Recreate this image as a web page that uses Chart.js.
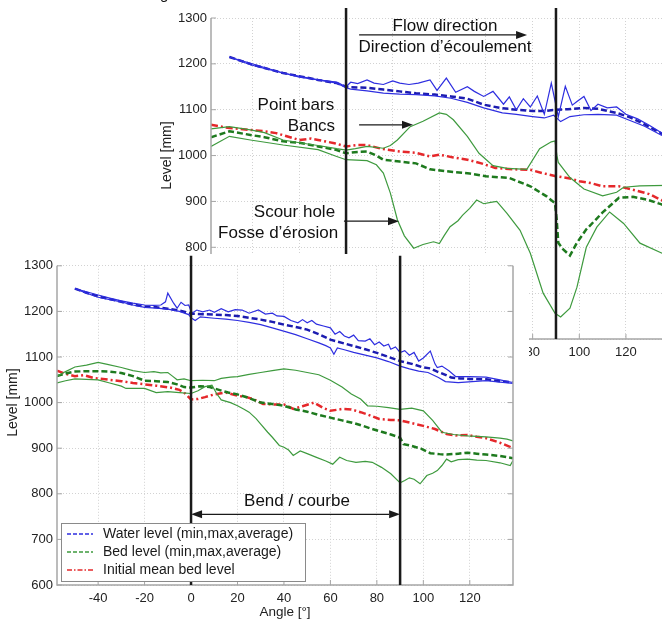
<!DOCTYPE html>
<html>
<head>
<meta charset="utf-8">
<script src="https://cdn.jsdelivr.net/npm/chart.js@4.4.1/dist/chart.umd.min.js"></script>
<style>
  html, body { margin: 0; padding: 0; background: #fff; overflow: hidden; }
  body { width: 662px; height: 621px; position: relative; }
  #backWrap { position: absolute; left: 140px; top: 0; }
  #frontWrap { position: absolute; left: 0; top: 254px; background: #fff; }
  canvas { display: block; }
</style>
</head>
<body>
<div id="backWrap"><canvas id="backChart" width="540" height="375"></canvas></div>
<div id="frontWrap"><canvas id="frontChart" width="529" height="367"></canvas></div>
<script>
// Tick labels shared by both panels
const angleTicks = [-40, -20, 0, 20, 40, 60, 80, 100, 120];
const levelTicks = [600, 700, 800, 900, 1000, 1100, 1200, 1300];
const bendLimits = [0, 90];
const legendLabels = ['Water level (min,max,average)', 'Bed level (min,max,average)', 'Initial mean bed level'];

// ---- front panel (lower left): [angle, level] ----
const frontWaterMax = [[-50,1250],[-45,1243],[-40,1236],[-35,1229],[-30,1223],[-25,1218],[-20,1214],[-16,1213],[-13,1214],[-11,1221],[-10,1240],[-7.5,1218],[-6,1207],[-4.3,1220],[-2.6,1213],[-1,1214],[0.3,1196],[2.5,1203],[5,1199],[8,1203],[10,1198],[13,1206],[16,1199],[19,1204],[22,1203],[25,1196],[29,1203],[32,1194],[35,1196],[37,1190],[40,1189],[43,1180],[46,1175],[48,1182],[50,1175],[52,1180],[54,1172],[57,1168],[60,1164],[62,1150],[64,1156],[66,1146],[68,1142],[70,1148],[72,1136],[75,1135],[77,1140],[79,1127],[81,1133],[83,1124],[85,1128],[86,1117],[88,1122],[90,1110],[92,1114],[94,1104],[96,1110],[98,1091],[100,1098],[103,1113],[105,1085],[106,1077],[108,1080],[111,1070],[114,1057],[120,1057],[127,1056],[133,1050],[138.6,1044]];
const frontWaterAvg = [[-50,1250],[-45,1241],[-40,1233],[-35,1227],[-30,1221],[-25,1215],[-20,1211],[-15,1209],[-10,1206],[-5,1202],[0,1195],[5,1194],[10,1193],[15,1192],[20,1190],[25,1186],[30,1182],[35,1177],[40,1171],[45,1166],[50,1160],[55,1150],[60,1138],[65,1131],[70,1124],[75,1117],[80,1109],[85,1100],[90,1091],[95,1085],[100,1077],[103,1075],[106,1068],[109,1062],[112,1055],[116,1053],[120,1052],[127,1051],[133,1047],[138.6,1044]];
const frontWaterMin = [[-50,1250],[-45,1240],[-40,1231],[-35,1226],[-30,1221],[-25,1214],[-20,1209],[-15,1207],[-10,1205],[-5,1200],[-1,1193],[0,1186],[1.8,1180],[4,1188],[10,1185],[15,1183],[20,1180],[25,1176],[30,1171],[35,1164],[41,1155],[45,1149],[50,1140],[55,1131],[58,1125],[60,1120],[61.5,1106],[63,1120],[66,1116],[70,1110],[75,1104],[80,1098],[85,1090],[90,1080],[94,1074],[98,1069],[102,1066],[106.5,1055],[109.5,1046],[115,1044],[121,1046],[127,1048],[133,1045],[138.6,1042]];
const frontBedMax = [[-57.7,1058],[-54,1068],[-50,1078],[-45,1082],[-40,1088],[-36,1084],[-30,1077],[-25,1070],[-20,1066],[-16,1068],[-13,1065],[-10,1066],[-8,1058],[-6,1050],[-3,1052],[0,1048],[5,1049],[10,1048],[13,1053],[17,1056],[20,1057],[25,1062],[30,1066],[35,1070],[40,1074],[45,1071],[50,1066],[55,1061],[60,1049],[65,1034],[69,1019],[73,1008],[76,993],[80,992],[85,989],[90,985],[95,988],[100,982],[104,961],[108,935],[113,930],[119,927],[127,925],[133,922],[136,920],[138.6,916]];
const frontBedAvg = [[-57.7,1058],[-54,1064],[-50,1068],[-45,1069],[-40,1069],[-35,1068],[-30,1065],[-25,1058],[-20,1048],[-15,1047],[-10,1045],[-6,1040],[-3,1034],[0,1033],[4,1036],[8,1034],[12,1028],[16,1022],[20,1018],[25,1010],[30,1000],[35,997],[40,993],[45,985],[50,980],[55,973],[60,967],[65,961],[70,955],[74,949],[78,942],[82,936],[86,930],[90,923],[91.5,909],[95,905],[99,899],[103,889],[107,887],[110,886],[115,888],[119,890],[123,888],[127,886],[133,883],[138.6,878]];
const frontBedMin = [[-57.7,1043],[-54,1048],[-50,1052],[-45,1051],[-40,1050],[-35,1043],[-30,1036],[-28,1031],[-20,1031],[-15,1022],[-10,1024],[-5,1022],[0,1020],[3,1026],[6,1035],[9,1038],[11,1020],[13,1006],[17,1000],[20,993],[23,985],[25,979],[28,965],[30,953],[33,935],[35,924],[38,906],[40,902],[42,896],[44,884],[47,894],[50,888],[54,880],[58,872],[61,865],[64,880],[67,873],[71,869],[75,871],[78,869],[82,858],[86,844],[90,824],[92,829],[94,835],[96,832],[98.6,822],[101.5,840],[104,845],[106,851],[108,862],[110,876],[112,870],[115,875],[119,876],[123,874],[127,873],[133,868],[137.4,862],[138.6,873]];
const frontInitial = [[-57.7,1070],[-54,1063],[-50,1058],[-46,1060],[-42,1054],[-40,1053],[-35,1050],[-30,1047],[-25,1043],[-20,1040],[-15,1037],[-9,1033],[-5,1028],[-3,1022],[0,1007],[3,1008],[6,1012],[10,1018],[15,1022],[20,1015],[24,1012],[27,1007],[31,997],[36,996],[40,996],[44,986],[48,992],[53,1000],[57,988],[60,982],[65,986],[69,985],[73,979],[76,974],[81,964],[86,962],[90,961],[95,955],[100,949],[105,942],[110,931],[114,928],[119,929],[123,925],[127,922],[133,912],[138.6,900]];

// ---- back panel (upper right): [angle, level] ----
const backWaterMax = [[-50,1215],[-41,1198],[-35,1190],[-27,1180],[-20,1171],[-12,1165],[-4,1160],[0,1150],[2,1160],[5,1157],[9,1165],[12,1158],[16,1155],[20,1163],[23,1158],[27,1155],[31,1158],[36,1165],[39,1142],[43,1169],[47,1138],[52,1150],[55,1140],[59,1129],[63,1140],[67.5,1112],[70,1128],[73,1100],[76,1124],[79,1106],[82,1130],[85,1090],[88,1158],[91,1085],[94,1151],[97,1110],[99,1118],[102,1129],[105,1098],[108,1112],[112,1104],[116,1106],[120,1090],[125,1080],[130,1066],[137.6,1042]];
const backWaterAvg = [[-50,1215],[-40,1198],[-27,1180],[-12,1165],[-4,1158],[0,1150],[2,1149],[9,1148],[16,1144],[23,1140],[30,1136],[38,1133],[45,1129],[52,1124],[59,1111],[66,1104],[73,1100],[80,1097],[85,1097],[90,1100],[95,1101],[102,1104],[108,1102],[116,1093],[122,1083],[128,1068],[135,1049],[137.6,1042]];
const backWaterMin = [[-50,1215],[-27,1180],[-12,1165],[-4,1158],[0,1148],[2,1145],[9,1141],[16,1136],[23,1134],[30,1133],[38,1130],[45,1125],[52,1116],[59,1104],[67,1093],[73,1090],[80,1085],[85,1082],[89,1088],[92,1074],[96,1085],[102,1089],[108,1090],[116,1088],[122,1076],[128,1064],[135,1045],[137.6,1040]];
const backBedMax = [[-57.9,1058],[-50,1063],[-41,1056],[-35,1050],[-27,1034],[-20,1028],[-12,1022],[-4,1015],[0,1012],[4,1015],[9,1020],[16,1016],[19,1022],[22,1034],[27.5,1063],[33,1075],[40,1093],[43,1090],[46,1078],[52,1042],[57,1005],[63,978],[69,972],[77.5,970],[83,1015],[88,1030],[89.6,1032],[90.4,1000],[91,985],[96,952],[102,927],[110,912],[116,920],[119,931],[126,934],[137.6,935]];
const backBedAvg = [[-57.9,1040],[-50,1053],[-41,1045],[-35,1040],[-27,1031],[-20,1028],[-12,1020],[-4,1012],[0,1005],[5,1008],[9,1009],[13,1000],[16,991],[23,987],[30,983],[36,970],[46,964],[53,961],[60,955],[70,951],[79,933],[86,911],[89.6,896],[90.3,861],[91,810],[93,796],[96,782],[99,810],[103,839],[107,860],[110,876],[117,908],[123,910],[129,904],[135,894],[137.6,888]];
const backBedMin = [[-57.9,1020],[-50,1042],[-41,1034],[-27,1023],[-12,1013],[-4,998],[0,991],[9,989],[13,980],[16,962],[19,918],[22,860],[25,825],[29,798],[33,806],[37.5,812],[40,808],[42,825],[44.6,845],[48,858],[50,870],[53,885],[56,903],[59,895],[62,898],[64.6,900],[69,874],[74.6,837],[79,787],[84.5,700],[89.6,656],[92,648],[96,667],[99,713],[103,800],[107.5,844],[113,877],[119,852],[126,809],[135.5,787],[137.6,783]];
const backInitial = [[-57.9,1067],[-50,1060],[-41,1056],[-35,1053],[-30,1049],[-20,1034],[-15,1037],[-12,1034],[-5,1027],[0,1020],[5,1023],[9,1023],[15,1015],[23,1009],[30,1006],[36,998],[40,1002],[46,996],[52,991],[58,983],[64,973],[72,970],[79,969],[84,962],[90,955],[96,950],[100,944],[105,940],[110,933],[117,933],[125,923],[130,916],[136,901],[137.6,899]];

const FONT = "'Liberation Sans', Arial, Helvetica, sans-serif";
const INK = '#1a1a1a';

const styles = {
  waterEdge: { borderColor: '#2e2ee0', borderWidth: 1.2 },
  waterMean: { borderColor: '#1c1cb0', borderWidth: 2.5, borderDash: [6, 3] },
  bedEdge:   { borderColor: '#3e9a3e', borderWidth: 1.2 },
  bedMean:   { borderColor: '#1e7a1e', borderWidth: 2.5, borderDash: [6, 3] },
  initial:   { borderColor: '#e5282b', borderWidth: 2.5, borderDash: [7, 3, 2, 3] }
};

const toXY = pts => pts.map(([x, y]) => ({ x, y }));

function makeDatasets(s) {
  return [
    { data: toXY(s.bedMin), ...styles.bedEdge },
    { data: toXY(s.bedMax), ...styles.bedEdge },
    { data: toXY(s.bedAvg), ...styles.bedMean },
    { data: toXY(s.initial), ...styles.initial },
    { data: toXY(s.waterMin), ...styles.waterEdge },
    { data: toXY(s.waterMax), ...styles.waterEdge },
    { data: toXY(s.waterAvg), ...styles.waterMean }
  ];
}

function drawArrow(ctx, x1, x2, y, both) {
  const hl = 11, hw = 4;
  const dir = x2 > x1 ? 1 : -1;
  ctx.beginPath();
  ctx.moveTo(both ? x1 + dir * hl : x1, y);
  ctx.lineTo(x2 - dir * hl, y);
  ctx.stroke();
  const head = (tip, d) => {
    ctx.beginPath();
    ctx.moveTo(tip, y);
    ctx.lineTo(tip - d * hl, y - hw);
    ctx.lineTo(tip - d * hl, y + hw);
    ctx.closePath();
    ctx.fill();
  };
  head(x2, dir);
  if (both) head(x1, -dir);
}

// Frame, bend limits, annotations, y title and legend
const overlay = {
  id: 'overlay',
  afterDraw(chart, args, opts) {
    const { ctx, chartArea: a, scales: { x, y } } = chart;
    ctx.save();

    // axes (left, bottom, right) with inward ticks
    ctx.strokeStyle = '#a6a6a6';
    ctx.lineWidth = 1.5;
    ctx.beginPath();
    ctx.moveTo(a.left, a.top);
    ctx.lineTo(a.left, a.bottom);
    ctx.lineTo(a.right, a.bottom);
    ctx.lineTo(a.right, a.top);
    ctx.stroke();
    ctx.lineWidth = 1;
    ctx.beginPath();
    angleTicks.forEach(v => {
      const px = x.getPixelForValue(v);
      ctx.moveTo(px, a.bottom); ctx.lineTo(px, a.bottom - 5);
    });
    levelTicks.forEach(v => {
      const py = y.getPixelForValue(v);
      ctx.moveTo(a.left, py); ctx.lineTo(a.left + 5, py);
      ctx.moveTo(a.right, py); ctx.lineTo(a.right - 5, py);
    });
    ctx.stroke();

    // bend limits
    ctx.strokeStyle = INK;
    ctx.lineWidth = 2.5;
    bendLimits.forEach(v => {
      const px = x.getPixelForValue(v);
      ctx.beginPath();
      ctx.moveTo(px, a.top - 10);
      ctx.lineTo(px, a.bottom);
      ctx.stroke();
    });

    // arrows
    ctx.strokeStyle = INK;
    ctx.fillStyle = INK;
    ctx.lineWidth = 1.3;
    (opts.arrows || []).forEach(r => {
      drawArrow(ctx, x.getPixelForValue(r.from), x.getPixelForValue(r.to), y.getPixelForValue(r.level), r.both);
    });

    // texts
    ctx.fillStyle = '#111';
    ctx.font = '17px ' + FONT;
    ctx.textBaseline = 'middle';
    (opts.texts || []).forEach(t => {
      ctx.textAlign = t.align;
      ctx.fillText(t.text, x.getPixelForValue(t.angle), y.getPixelForValue(t.level));
    });

    // y title
    ctx.save();
    ctx.translate(a.left - 44, y.getPixelForValue(1000));
    ctx.rotate(-Math.PI / 2);
    ctx.textAlign = 'center';
    ctx.font = '14px ' + FONT;
    ctx.fillStyle = '#222';
    ctx.fillText('Level [mm]', 0, 0);
    ctx.restore();

    // legend box inside the axes
    if (opts.legend) {
      const bx = a.left + 4, by = a.bottom - 62, bw = 244, bh = 58;
      ctx.fillStyle = '#fff';
      ctx.fillRect(bx, by, bw, bh);
      ctx.strokeStyle = '#8a8a8a';
      ctx.lineWidth = 1;
      ctx.strokeRect(bx + 0.5, by + 0.5, bw, bh);
      const keys = [
        { color: '#2e2ee0', dash: [4, 2] },
        { color: '#3e9a3e', dash: [4, 2] },
        { color: '#e5282b', dash: [5, 2, 1.5, 2] }
      ];
      ctx.font = '14px ' + FONT;
      ctx.textAlign = 'left';
      legendLabels.forEach((label, i) => {
        const ly = by + 11 + i * 18;
        ctx.strokeStyle = keys[i].color;
        ctx.lineWidth = 1.6;
        ctx.setLineDash(keys[i].dash);
        ctx.beginPath();
        ctx.moveTo(bx + 6, ly);
        ctx.lineTo(bx + 32, ly);
        ctx.stroke();
        ctx.setLineDash([]);
        ctx.fillStyle = '#1a1a1a';
        ctx.fillText(label, bx + 42, ly);
      });
    }

    // cut-off caption letter at the very top
    if (opts.caption) {
      ctx.fillStyle = '#111';
      ctx.font = '15px ' + FONT;
      ctx.textAlign = 'left';
      ctx.textBaseline = 'alphabetic';
      ctx.fillText(opts.caption, 20, -1);
    }
    ctx.restore();
  }
};

function chartOptions(xRange, padding, yAxisWidth, overlayOpts) {
  return {
    responsive: false,
    animation: false,
    layout: { padding },
    elements: { point: { radius: 0 }, line: { tension: 0, fill: false } },
    plugins: { legend: { display: false }, tooltip: { enabled: false }, overlay: overlayOpts },
    scales: {
      x: {
        type: 'linear', min: xRange[0], max: xRange[1],
        afterBuildTicks: s => { s.ticks = angleTicks.map(v => ({ value: v })); },
        afterFit: s => { s.height = 36; },
        grid: { color: '#d2d2d2', lineWidth: 1, drawTicks: false },
        border: { display: false, dash: [1, 2] },
        ticks: { color: '#222', font: { family: FONT, size: 13 }, padding: 6, maxRotation: 0, autoSkip: false,
                 callback: v => String(v) },
        title: { display: true, text: 'Angle [°]', color: '#222', font: { family: FONT, size: 13.5 }, padding: { top: 0, bottom: 1 } }
      },
      y: {
        min: 600, max: 1300,
        afterBuildTicks: s => { s.ticks = levelTicks.map(v => ({ value: v })); },
        afterFit: s => { s.width = yAxisWidth; },
        grid: { color: '#d2d2d2', lineWidth: 1, drawTicks: false },
        border: { display: false, dash: [1, 2] },
        ticks: { color: '#222', font: { family: FONT, size: 13 }, padding: 4, callback: v => String(v) }
      }
    }
  };
}

// back panel, drawn first and partly hidden
new Chart(document.getElementById('backChart'), {
  type: 'line',
  data: {
    datasets: makeDatasets({
      waterMax: backWaterMax, waterAvg: backWaterAvg, waterMin: backWaterMin,
      bedMax: backBedMax, bedAvg: backBedAvg, bedMin: backBedMin, initial: backInitial
    })
  },
  plugins: [overlay],
  options: chartOptions([-57.9, 137.6], { left: 0, top: 18, right: 13, bottom: 0 }, 71, {
    caption: 'g',
    arrows: [
      { from: 5.6, to: 77.6, level: 1263 },
      { from: 5.6, to: 28.7, level: 1067 },
      { from: -0.9, to: 22.7, level: 857 }
    ],
    texts: [
      { text: 'Flow direction', angle: 42.4, level: 1281, align: 'center' },
      { text: 'Direction d\u2019écoulement', angle: 42.4, level: 1237, align: 'center' },
      { text: 'Point bars', angle: -5.1, level: 1110, align: 'right' },
      { text: 'Bancs', angle: -4.7, level: 1064, align: 'right' },
      { text: 'Scour hole', angle: -4.7, level: 877, align: 'right' },
      { text: 'Fosse d\u2019érosion', angle: -3.4, level: 831, align: 'right' }
    ]
  })
});

// front panel on top
new Chart(document.getElementById('frontChart'), {
  type: 'line',
  data: {
    datasets: makeDatasets({
      waterMax: frontWaterMax, waterAvg: frontWaterAvg, waterMin: frontWaterMin,
      bedMax: frontBedMax, bedAvg: frontBedAvg, bedMin: frontBedMin, initial: frontInitial
    })
  },
  plugins: [overlay],
  options: chartOptions([-57.7, 138.6], { left: 0, top: 10, right: 16, bottom: 0 }, 57, {
    legend: true,
    arrows: [{ from: 0, to: 90, level: 755, both: true }],
    texts: [{ text: 'Bend / courbe', angle: 45.6, level: 783, align: 'center' }]
  })
});
</script>
</body>
</html>
